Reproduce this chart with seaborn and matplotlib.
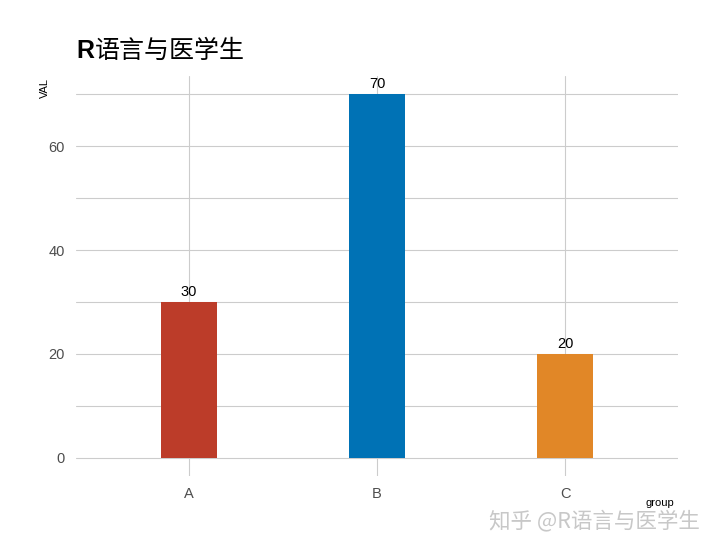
import matplotlib
matplotlib.use("Agg")
import matplotlib.pyplot as plt
import seaborn as sns
import pandas as pd

# data
groups = ["A", "B", "C"]
values = [30, 70, 20]
colors = ["#BC3C29", "#0072B5", "#E18727"]

df = pd.DataFrame({"group": groups, "VAL": values})

sns.set_theme(style="white")
plt.rcParams["font.family"] = ["Liberation Sans", "Noto Sans CJK SC", "DejaVu Sans"]

fig = plt.figure(figsize=(7.18, 5.5), dpi=100)
ax = fig.add_axes([76 / 718, 1 - 476 / 550, 602 / 718, 400 / 550])

sns.barplot(data=df, x="group", y="VAL", hue="group", palette=colors,
            width=0.3, saturation=1, linewidth=0, legend=False, ax=ax, zorder=2)

ax.set_xlim(-0.6, 2.6)
ax.set_ylim(-3.5, 73.5)
ax.set_yticks([0, 20, 40, 60])
ax.set_yticks([10, 30, 50, 70], minor=True)
ax.grid(True, which="both", axis="y", color="#CCCCCC", linewidth=0.8, zorder=0)
ax.grid(True, which="major", axis="x", color="#CCCCCC", linewidth=0.8, zorder=0)
ax.set_axisbelow(True)
for s in ax.spines.values():
    s.set_visible(False)
ax.tick_params(axis="both", length=0, labelsize=10.5, labelcolor="#4D4D4D", pad=8)
ax.tick_params(axis="y", which="minor", length=0)

for i, v in enumerate(values):
    ax.text(i, v + 0.6, str(v), ha="center", va="bottom", fontsize=10.5, color="black")

ax.set_xlabel("")
ax.set_ylabel("")
fig.text(660 / 718, 1 - 503 / 550, "group", ha="center", va="center", fontsize=8, color="black")
fig.text(45 / 718, 1 - 88 / 550, "VAL", ha="center", va="center", rotation=90, fontsize=8, color="black")

# title: bold R then regular Chinese
t1 = fig.text(76 / 718, 1 - 58 / 550, "R", fontsize=18, fontweight="bold", color="black")
fig.canvas.draw()
bb = t1.get_window_extent()
fig.text(bb.x1 / fig.bbox.width + 0.001, 1 - 58 / 550, "语言与医学生", fontsize=18,
         family=["Noto Sans CJK SC"], color="black")

# watermark
fig.text(700 / 718, 1 - 521 / 550, "知乎 @R语言与医学生", ha="right", va="center", fontsize=15.5,
         family=["Noto Sans CJK SC", "DejaVu Sans"], color="#C8C8C8")

fig.savefig("out.png", dpi=100)
